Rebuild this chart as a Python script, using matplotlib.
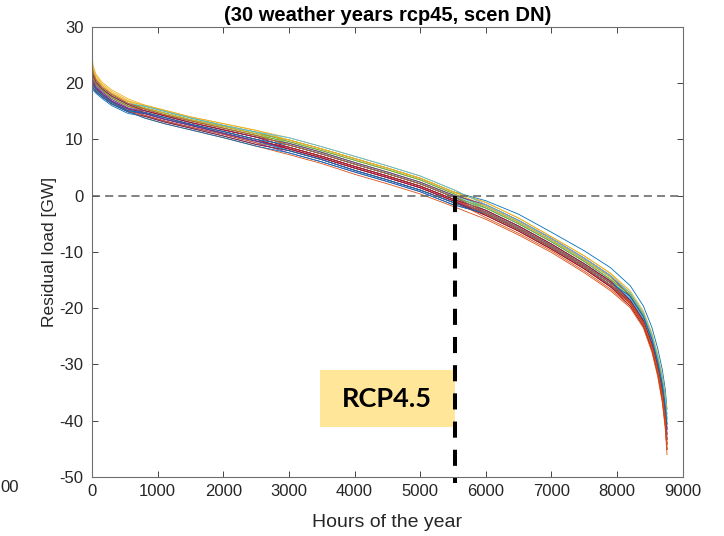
import matplotlib
matplotlib.use("Agg")
import matplotlib.pyplot as plt
from matplotlib.patches import Rectangle

plt.rcParams['font.family'] = ['Liberation Sans', 'DejaVu Sans']
plt.rcParams['axes.unicode_minus'] = False

# sample hours along the sorted (duration) curves
hours = [0, 15, 60, 150, 300, 550, 800, 1100, 1500, 2000, 2500, 3000, 3500,
         4000, 4500, 5000, 5500, 6000, 6500, 7000, 7500, 7900, 8200, 8400,
         8530, 8620, 8690, 8735, 8760]

# residual load [GW] for each of the 30 weather years
years = [
    [19.3, 18.8, 18.2, 17.3, 16.0, 14.6, 14.1, 13.1, 12.0, 10.6, 9.1, 8.0, 6.4, 4.5, 2.8, 1.0, -1.2, -2.9, -5.7, -8.9, -12.4, -15.5, -18.3, -21.9, -25.9, -30.0, -34.2, -38.2, -41.5],
    [21.9, 21.0, 19.9, 18.8, 17.4, 15.9, 14.8, 13.9, 12.7, 11.4, 10.0, 8.3, 6.7, 4.9, 3.2, 1.4, -0.9, -3.5, -6.3, -9.5, -13.0, -16.2, -19.2, -22.8, -27.0, -31.3, -35.8, -40.2, -44.2],
    [23.9, 22.3, 20.9, 19.6, 18.2, 16.7, 16.1, 15.2, 14.0, 12.8, 11.6, 10.3, 8.7, 7.0, 5.3, 3.5, 1.1, -1.6, -4.4, -7.6, -11.1, -14.2, -17.9, -21.5, -25.5, -29.6, -33.6, -37.5, -40.6],
    [21.3, 20.1, 19.2, 18.2, 16.8, 15.4, 14.3, 13.3, 12.2, 10.9, 9.4, 7.6, 6.0, 4.2, 2.5, 0.7, -1.6, -3.2, -6.0, -9.2, -12.7, -15.9, -18.6, -22.2, -26.3, -30.4, -34.7, -38.9, -42.4],
    [22.6, 21.4, 20.2, 19.0, 17.7, 16.2, 15.4, 14.4, 13.3, 12.0, 10.7, 9.6, 8.0, 6.3, 4.6, 2.8, 0.4, -2.2, -5.0, -8.2, -11.7, -14.9, -17.6, -21.2, -25.1, -29.1, -33.1, -36.8, -39.7],
    [21.9, 20.6, 19.6, 18.5, 17.1, 15.6, 15.1, 14.2, 13.0, 11.7, 10.4, 9.3, 7.7, 5.9, 4.2, 2.4, 0.1, -1.9, -4.7, -7.9, -11.4, -14.5, -17.3, -20.9, -24.8, -28.7, -32.5, -36.2, -38.8],
    [20.6, 19.7, 18.9, 17.9, 16.6, 15.1, 14.6, 13.6, 12.5, 11.1, 9.7, 8.6, 7.0, 5.2, 3.5, 1.7, -0.6, -3.2, -6.0, -9.2, -12.7, -15.9, -19.2, -22.8, -27.0, -31.3, -35.8, -40.2, -43.3],
    [21.3, 21.4, 20.2, 19.0, 17.7, 16.2, 15.6, 14.7, 13.5, 12.3, 11.0, 9.9, 8.3, 6.6, 4.9, 3.1, 0.7, -0.9, -3.3, -6.5, -9.8, -12.8, -16.0, -19.6, -23.4, -27.2, -31.0, -34.5, -38.0],
    [20.0, 19.7, 18.9, 17.9, 16.6, 15.1, 14.3, 13.3, 12.2, 10.9, 9.4, 8.3, 6.7, 4.9, 3.2, 1.4, -0.9, -3.9, -6.7, -9.8, -13.4, -16.6, -19.6, -23.2, -27.4, -31.8, -36.4, -40.9, -45.1],
    [25.2, 22.8, 21.3, 19.9, 18.5, 16.9, 15.9, 15.0, 13.8, 12.5, 11.3, 9.9, 8.3, 6.6, 4.9, 3.1, 0.7, -1.2, -4.0, -7.3, -10.7, -13.8, -16.9, -20.5, -24.4, -28.2, -32.0, -35.5, -39.7],
    [20.6, 19.2, 18.5, 17.6, 16.3, 14.9, 14.6, 13.6, 12.5, 11.1, 9.7, 8.3, 6.7, 4.9, 3.2, 1.4, -0.9, -2.9, -5.7, -8.9, -12.4, -15.5, -18.9, -22.5, -26.7, -30.9, -35.3, -39.6, -42.4],
    [23.3, 21.9, 20.6, 19.3, 18.0, 16.4, 15.6, 14.7, 13.5, 12.3, 11.0, 9.3, 7.7, 5.9, 4.2, 2.4, 0.1, -2.6, -5.4, -8.6, -12.1, -15.2, -17.9, -21.5, -25.5, -29.6, -33.6, -37.5, -40.6],
    [21.3, 20.1, 19.2, 18.2, 16.8, 15.4, 14.8, 13.9, 12.7, 11.4, 10.0, 9.0, 7.4, 5.6, 3.9, 2.1, -0.2, -2.2, -5.0, -8.2, -11.7, -14.9, -18.3, -21.9, -25.9, -30.0, -34.2, -38.2, -41.5],
    [20.0, 19.2, 18.5, 17.6, 16.3, 14.9, 14.1, 13.1, 12.0, 10.6, 9.1, 8.0, 6.4, 4.5, 2.8, 1.0, -1.2, -3.5, -6.3, -9.5, -13.0, -16.2, -19.6, -23.2, -27.4, -31.8, -36.4, -40.9, -45.1],
    [20.0, 19.7, 18.9, 17.9, 16.6, 15.1, 14.6, 13.6, 12.5, 11.1, 9.7, 8.0, 6.4, 4.5, 2.8, 1.0, -1.2, -3.2, -6.0, -9.2, -12.7, -15.9, -18.9, -22.5, -26.7, -30.9, -35.3, -39.6, -43.3],
    [20.6, 19.7, 18.9, 17.9, 16.6, 15.1, 13.8, 12.8, 11.7, 10.3, 8.8, 7.3, 5.7, 3.8, 2.1, 0.3, -1.9, -4.2, -7.0, -10.1, -13.7, -16.9, -19.9, -23.5, -27.8, -32.2, -36.9, -41.6, -46.0],
    [24.6, 22.3, 20.9, 19.6, 18.2, 16.7, 15.6, 14.7, 13.5, 12.3, 11.0, 9.9, 8.3, 6.6, 4.9, 3.1, 0.7, -1.2, -4.0, -7.3, -10.7, -13.8, -17.3, -20.9, -24.8, -28.7, -32.5, -36.2, -37.9],
    [21.9, 20.6, 19.6, 18.5, 17.1, 15.6, 14.6, 13.6, 12.5, 11.1, 9.7, 8.6, 7.0, 5.2, 3.5, 1.7, -0.6, -2.6, -5.4, -8.6, -12.1, -15.2, -18.6, -22.2, -26.3, -30.4, -34.7, -38.9, -41.5],
    [22.6, 21.4, 20.2, 19.0, 17.7, 16.2, 15.9, 15.0, 13.8, 12.5, 11.3, 9.6, 8.0, 6.3, 4.6, 2.8, 0.4, -1.9, -4.7, -7.9, -11.4, -14.5, -17.6, -21.2, -25.1, -29.1, -33.1, -36.8, -40.6],
    [23.3, 21.4, 20.2, 19.0, 17.7, 16.2, 15.4, 14.4, 13.3, 12.0, 10.7, 9.0, 7.4, 5.6, 3.9, 2.1, -0.2, -2.9, -5.7, -8.9, -12.4, -15.5, -18.3, -21.9, -25.9, -30.0, -34.2, -38.2, -41.5],
    [21.3, 20.1, 19.2, 18.2, 16.8, 15.4, 14.8, 13.9, 12.7, 11.4, 10.0, 8.3, 6.7, 4.9, 3.2, 1.4, -0.9, -3.5, -6.3, -9.5, -13.0, -16.2, -18.9, -22.5, -26.7, -30.9, -35.3, -39.6, -44.2],
    [19.6, 19.2, 18.5, 17.6, 16.3, 14.9, 13.8, 12.8, 11.7, 10.3, 8.8, 7.6, 6.0, 4.2, 2.5, 0.7, -1.6, -3.2, -6.0, -9.2, -12.7, -15.9, -18.6, -22.2, -26.3, -30.4, -34.7, -38.9, -42.4],
    [22.6, 21.0, 19.9, 18.8, 17.4, 15.9, 15.1, 14.2, 13.0, 11.7, 10.4, 8.6, 7.0, 5.2, 3.5, 1.7, -0.6, -3.2, -6.0, -9.2, -12.7, -15.9, -19.2, -22.8, -27.0, -31.3, -35.8, -40.2, -45.1],
    [25.9, 23.2, 21.6, 20.2, 18.8, 17.2, 16.1, 15.2, 14.0, 12.8, 11.6, 9.9, 8.3, 6.6, 4.9, 3.1, 0.7, -1.9, -4.7, -7.9, -11.4, -14.5, -17.6, -21.2, -25.1, -29.1, -33.1, -36.8, -39.7],
    [20.6, 20.1, 19.2, 18.2, 16.8, 15.4, 15.1, 14.2, 13.0, 11.7, 10.4, 9.3, 7.7, 5.9, 4.2, 2.4, 0.1, -1.6, -4.4, -7.6, -11.1, -14.2, -17.9, -21.5, -25.5, -29.6, -33.6, -37.5, -41.5],
    [21.9, 21.0, 19.9, 18.8, 17.4, 15.9, 15.4, 14.4, 13.3, 12.0, 10.7, 9.0, 7.4, 5.6, 3.9, 2.1, -0.2, -2.2, -5.0, -8.2, -11.7, -14.9, -17.6, -21.2, -25.1, -29.1, -33.1, -36.8, -38.8],
    [22.6, 21.9, 20.6, 19.3, 18.0, 16.4, 15.9, 15.0, 13.8, 12.5, 11.3, 10.3, 8.7, 7.0, 5.3, 3.5, 1.1, -1.6, -4.4, -7.6, -11.1, -14.2, -17.3, -20.9, -24.8, -28.7, -32.5, -36.2, -39.7],
    [23.3, 21.4, 20.2, 19.0, 17.7, 16.2, 15.1, 14.2, 13.0, 11.7, 10.4, 8.6, 7.0, 5.2, 3.5, 1.7, -0.6, -2.6, -5.4, -8.6, -12.1, -15.2, -18.6, -22.2, -26.3, -30.4, -34.7, -38.9, -43.3],
    [20.0, 19.7, 18.9, 17.9, 16.6, 15.1, 14.8, 13.9, 12.7, 11.4, 10.0, 9.0, 7.4, 5.6, 3.9, 2.1, -0.2, -2.9, -5.7, -8.9, -12.4, -15.5, -17.9, -21.5, -25.5, -29.6, -33.6, -37.5, -40.6],
    [23.9, 21.9, 20.6, 19.3, 18.0, 16.4, 15.4, 14.4, 13.3, 12.0, 10.7, 9.0, 7.4, 5.6, 3.9, 2.1, -0.2, -2.9, -5.7, -8.9, -12.4, -15.5, -18.9, -22.5, -26.7, -30.9, -35.3, -39.6, -44.2],
]

# matlab default colour order
colors = ['#0072BD', '#D95319', '#EDB120', '#7E2F8E', '#77AC30', '#4DBEEE', '#A2142F']

cross_hour = 5530          # where the thick dashed marker sits
label_box_x = [3470, 5530]
label_box_y = [-41.1, -31.0]

fig = plt.figure(figsize=(7.24, 5.36), dpi=100)
ax = fig.add_axes([0.127, 0.110, 0.816, 0.840])

for i, vals in enumerate(years):
    ax.plot(hours, vals, color=colors[i % 7], lw=0.6)

ax.axhline(0, color='#5f5f5f', lw=1.1, linestyle=(0, (5.3, 3.3)), zorder=3)
ax.plot([cross_hour, cross_hour], [0, -51.1], color='black', lw=2.9,
        linestyle=(0, (4.0, 3.0)), clip_on=False, zorder=5)

ax.add_patch(Rectangle((label_box_x[0], label_box_y[0]),
                       label_box_x[1] - label_box_x[0],
                       label_box_y[1] - label_box_y[0],
                       facecolor='#FFE699', edgecolor='none', zorder=4))
ax.text(sum(label_box_x) / 2, sum(label_box_y) / 2, 'RCP4.5',
        family=['Lato', 'DejaVu Sans'], fontweight='bold', fontsize=19.5,
        ha='center', va='center', color='black', zorder=6)

ax.set_xlim(0, 9000)
ax.set_ylim(-50, 30)
ax.set_xticks(range(0, 9001, 1000))
ax.set_yticks(range(-50, 31, 10))
ax.tick_params(direction='in', length=4, width=0.6, colors='#262626',
               labelsize=12, top=True, right=True)
ax.tick_params(axis='x', pad=5)
ax.tick_params(axis='y', pad=6)
for s in ax.spines.values():
    s.set_color('#6e6e6e')
    s.set_linewidth(0.8)

ax.set_xlabel('Hours of the year', fontsize=14, color='#262626', labelpad=11)
ax.set_ylabel('Residual load [GW]', fontsize=12.5, color='#262626', labelpad=2)
ax.set_title('(30 weather years rcp45, scen DN)', fontsize=14.5,
             fontweight='bold', pad=4)

# leftover tick label from the neighbouring panel
fig.text(0.0, 1 - 488 / 536, '00', fontsize=12, color='#262626',
         ha='left', va='center')

fig.savefig('out.png', dpi=100)
